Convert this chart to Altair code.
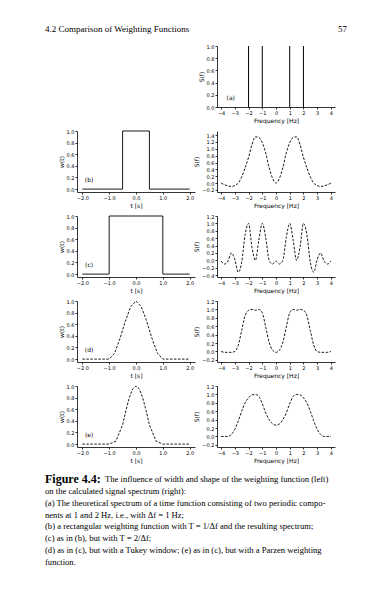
import altair as alt
import pandas as pd

# ---------------- data ----------------
header_left = "4.2 Comparison of Weighting Functions"
page_no = "57"

# (a) theoretical line spectrum
a_freq = [-2.0, -1.0, 1.0, 2.0]
a_amp = [1.0, 1.0, 1.0, 1.0]

# weighting functions (left column)
b_t = [-2.0, -0.5, -0.5, 0.5, 0.5, 2.0]
b_w = [0.0, 0.0, 1.0, 1.0, 0.0, 0.0]
c_t = [-2.0, -1.0, -1.0, 1.0, 1.0, 2.0]
c_w = [0.0, 0.0, 1.0, 1.0, 0.0, 0.0]
d_t = [-2.0, -1.0, -0.8, -0.6, -0.4, -0.2, 0.0, 0.2, 0.4, 0.6, 0.8, 1.0, 2.0]
d_w = [0.0, 0.0, 0.1, 0.35, 0.65, 0.9, 1.0, 0.9, 0.65, 0.35, 0.1, 0.0, 0.0]
e_t = [-2.0, -1.0, -0.75, -0.5, -0.375, -0.25, -0.125, 0.0, 0.125, 0.25, 0.375, 0.5, 0.75, 1.0, 2.0]
e_w = [0.0, 0.0, 0.05, 0.33, 0.58, 0.8, 0.95, 1.0, 0.95, 0.8, 0.58, 0.33, 0.05, 0.0, 0.0]

# spectra (right column)
freq = [-4.0, -3.75, -3.5, -3.25, -3.0, -2.75, -2.5, -2.25, -2.0, -1.75, -1.5, -1.25,
        -1.0, -0.75, -0.5, -0.25, 0.0, 0.25, 0.5, 0.75, 1.0, 1.25, 1.5, 1.75,
        2.0, 2.25, 2.5, 2.75, 3.0, 3.25, 3.5, 3.75, 4.0]
S_b = [0.0, -0.05, -0.08, -0.1, -0.07, 0.0, 0.18, 0.45, 0.75, 1.12, 1.35, 1.33,
       1.18, 0.88, 0.45, 0.14, 0.0, 0.14, 0.45, 0.88, 1.18, 1.33, 1.35, 1.12,
       0.75, 0.45, 0.18, 0.0, -0.07, -0.1, -0.08, -0.05, 0.0]
S_c = [-0.02, -0.1, -0.02, 0.2, 0.02, -0.32, -0.05, 0.7, 1.0, 0.35, 0.0, 0.55,
       1.0, 0.62, 0.0, -0.1, -0.02, -0.1, 0.0, 0.62, 1.0, 0.55, 0.0, 0.35,
       1.0, 0.7, -0.05, -0.32, 0.02, 0.2, -0.02, -0.1, -0.02]
S_d = [0.0, -0.02, -0.02, -0.02, 0.0, 0.15, 0.5, 0.85, 0.98, 1.0, 0.98, 1.0,
       0.92, 0.58, 0.22, 0.03, -0.02, 0.03, 0.22, 0.58, 0.92, 1.0, 0.98, 1.0,
       0.98, 0.85, 0.5, 0.15, 0.0, -0.02, -0.02, -0.02, 0.0]
S_e = [0.0, 0.0, 0.0, 0.05, 0.17, 0.37, 0.6, 0.8, 0.92, 0.99, 1.0, 0.95,
       0.78, 0.56, 0.4, 0.3, 0.27, 0.3, 0.4, 0.56, 0.78, 0.95, 1.0, 0.99,
       0.92, 0.8, 0.6, 0.37, 0.17, 0.05, 0.0, 0.0, 0.0]

panel_labels = ["(a)", "(b)", "(c)", "(d)", "(e)"]
label_f = -3.3       # anchor of "(a)" in frequency units
label_t = -1.75      # anchor of "(b)".."(e)" in time units
label_v = 0.15

left_ticks_x = [-2.0, -1.0, 0.0, 1.0, 2.0]
left_ticks_y = [0.0, 0.2, 0.4, 0.6, 0.8, 1.0]
right_ticks_x = [-4, -3, -2, -1, 0, 1, 2, 3, 4]
a_ticks_y = [0.0, 0.2, 0.4, 0.6, 0.8, 1.0]
b_ticks_y = [-0.2, 0.0, 0.2, 0.4, 0.6, 0.8, 1.0, 1.2, 1.4]
c_ticks_y = [-0.4, -0.2, 0.0, 0.2, 0.4, 0.6, 0.8, 1.0, 1.2]
de_ticks_y = [-0.2, 0.0, 0.2, 0.4, 0.6, 0.8, 1.0, 1.2]

caption_bold = "Figure 4.4:"
caption_lines = [
    "The influence of width and shape of the weighting function (left)",
    "on the calculated signal spectrum (right):",
    "(a) The theoretical spectrum of a time function consisting of two periodic compo-",
    "nents at 1 and 2 Hz, i.e., with \u0394f = 1 Hz;",
    "(b) a rectangular weighting function with T = 1/\u0394f and the resulting spectrum;",
    "(c) as in (b), but with T = 2/\u0394f;",
    "(d) as in (c), but with a Tukey window; (e) as in (c), but with a Parzen weighting",
    "function.",
]

# ---------------- styling ----------------
SERIF = "Liberation Serif"
SANS = "DejaVu Sans"
PW, PH = 118, 61
SHIFT = -32   # text block starts left of the plot column

def left_panel(ts, ws, lab, dash):
    df = pd.DataFrame({"t": ts, "w": ws, "i": list(range(len(ts))), "lab": [lab] + [""] * (len(ts) - 1),
                       "lt": [label_t] * len(ts), "lv": [label_v] * len(ts)})
    x = alt.X("t:Q", scale=alt.Scale(domain=[-2.2, 2.2], nice=False),
              axis=alt.Axis(values=left_ticks_x, format=".1f", title="t [s]", labelOverlap=False))
    y = alt.Y("w:Q", scale=alt.Scale(domain=[-0.05, 1.0], nice=False),
              axis=alt.Axis(values=left_ticks_y, format=".1f", title="w(t)", labelOverlap=False))
    mk = dict(color="black", strokeWidth=0.9)
    if dash:
        mk["strokeDash"] = [2.5, 1.5]
    base = alt.Chart(df)
    line = base.mark_line(**mk).encode(x=x, y=y, order="i:Q")
    txt = base.transform_filter("datum.lab != ''").transform_calculate(
        t="datum.lt", w="datum.lv").mark_text(
        fontSize=6, font=SANS, color="black", align="center").encode(x=x, y=y, text="lab:N")
    return alt.layer(line, txt).properties(width=PW, height=PH)

def right_panel(values, dom, ticks):
    df = pd.DataFrame({"f": freq, "S": values})
    x = alt.X("f:Q", scale=alt.Scale(domain=[-4.3, 4.3], nice=False),
              axis=alt.Axis(values=right_ticks_x, format="d", title="Frequency [Hz]", labelOverlap=False))
    y = alt.Y("S:Q", scale=alt.Scale(domain=dom, nice=False),
              axis=alt.Axis(values=ticks, format=".1f", title="S(f)", labelOverlap=False))
    line = alt.Chart(df).mark_line(color="black", strokeWidth=0.9, strokeDash=[2.5, 1.5],
                                   interpolate="monotone").encode(x=x, y=y)
    return line.properties(width=PW, height=PH)

# (a)
adf = pd.DataFrame({"f": a_freq, "S": a_amp, "lab": [panel_labels[0], "", "", ""],
                    "lf": [label_f] * 4, "lv": [label_v] * 4})
ax_x = alt.X("f:Q", scale=alt.Scale(domain=[-4.3, 4.3], nice=False),
             axis=alt.Axis(values=right_ticks_x, format="d", title="Frequency [Hz]", labelOverlap=False))
ax_y = alt.Y("S:Q", scale=alt.Scale(domain=[0, 1.0], nice=False),
             axis=alt.Axis(values=a_ticks_y, format=".1f", title="S(f)", labelOverlap=False))
abase = alt.Chart(adf)
spikes = abase.mark_rule(color="black", strokeWidth=1).encode(x=ax_x, y=ax_y, y2=alt.datum(0))
albl = abase.transform_filter("datum.lab != ''").transform_calculate(
    f="datum.lf", S="datum.lv").mark_text(fontSize=6, font=SANS, color="black").encode(
    x=ax_x, y=ax_y, text="lab:N")
panel_a = alt.layer(spikes, albl).properties(width=PW, height=PH)

spacer = alt.Chart(pd.DataFrame({"u": [0.0], "v": [0.0]})).mark_point(opacity=0).encode(
    x=alt.X("u:Q", axis=None), y=alt.Y("v:Q", axis=None)).properties(width=PW, height=PH)

panel_bL = left_panel(b_t, b_w, panel_labels[1], False)
panel_cL = left_panel(c_t, c_w, panel_labels[2], False)
panel_dL = left_panel(d_t, d_w, panel_labels[3], True)
panel_eL = left_panel(e_t, e_w, panel_labels[4], True)

panel_bR = right_panel(S_b, [-0.26, 1.52], b_ticks_y)
panel_cR = right_panel(S_c, [-0.45, 1.2], c_ticks_y)
panel_dR = right_panel(S_d, [-0.25, 1.2], de_ticks_y)
panel_eR = right_panel(S_e, [-0.25, 1.2], de_ticks_y)

grid = alt.concat(spacer, panel_a, panel_bL, panel_bR, panel_cL, panel_cR,
                  panel_dL, panel_dR, panel_eL, panel_eR,
                  columns=2, spacing={"row": 6, "column": -2})

# header
hdf = pd.DataFrame({"text": [header_left, page_no], "pos": [0.0, 1.0]})
hx = alt.X("pos:Q", scale=alt.Scale(domain=[0, 1]), axis=None)
header = alt.layer(
    alt.Chart(hdf).transform_filter("datum.pos == 0").mark_text(
        align="left", baseline="middle", font=SERIF, fontSize=9, color="black", dx=SHIFT).encode(
        x=hx, text="text:N"),
    alt.Chart(hdf).transform_filter("datum.pos == 1").mark_text(
        align="right", baseline="middle", font=SERIF, fontSize=9, color="black").encode(
        x=hx, text="text:N"),
).properties(width=270, height=10)

# caption
cdf = pd.DataFrame({"line": list(range(len(caption_lines))), "text": caption_lines,
                    "pos": [0.0] * len(caption_lines)})
bdf = pd.DataFrame({"line": [0], "text": [caption_bold], "pos": [0.0]})
cx = alt.X("pos:Q", scale=alt.Scale(domain=[0, 1]), axis=None)
cy = alt.Y("line:Q", scale=alt.Scale(domain=[0, len(caption_lines) - 1], reverse=True), axis=None)
cap_bold = alt.Chart(bdf).mark_text(align="left", baseline="middle", font=SERIF, fontSize=12,
                                    fontWeight="bold", color="black", dx=SHIFT).encode(
    x=cx, y=cy, text="text:N")
cap_first = alt.Chart(cdf).transform_filter("datum.line == 0").mark_text(
    align="left", baseline="middle", font=SERIF, fontSize=8.6, color="black", dx=SHIFT + 60).encode(
    x=cx, y=cy, text="text:N")
cap_rest = alt.Chart(cdf).transform_filter("datum.line > 0").mark_text(
    align="left", baseline="middle", font=SERIF, fontSize=8.6, color="black", dx=SHIFT).encode(
    x=cx, y=cy, text="text:N")
caption = alt.layer(cap_bold, cap_first, cap_rest).properties(width=270, height=83)

chart = alt.vconcat(header, grid, caption, spacing=10).properties(
    padding={"left": 37, "top": 16, "right": 0, "bottom": 0}
).configure_view(stroke=None).configure_axis(
    domainColor="black", domainWidth=0.8, tickColor="black", tickSize=2, tickWidth=0.8,
    labelFontSize=5, labelFont=SANS, labelColor="black", labelPadding=1, labelOverlap=False,
    titleFontSize=6, titleFont=SANS, titleColor="black", titleFontWeight="normal",
    titlePadding=2, grid=False
)

chart.save("out.html", embed_options={"renderer": "svg", "actions": False})
